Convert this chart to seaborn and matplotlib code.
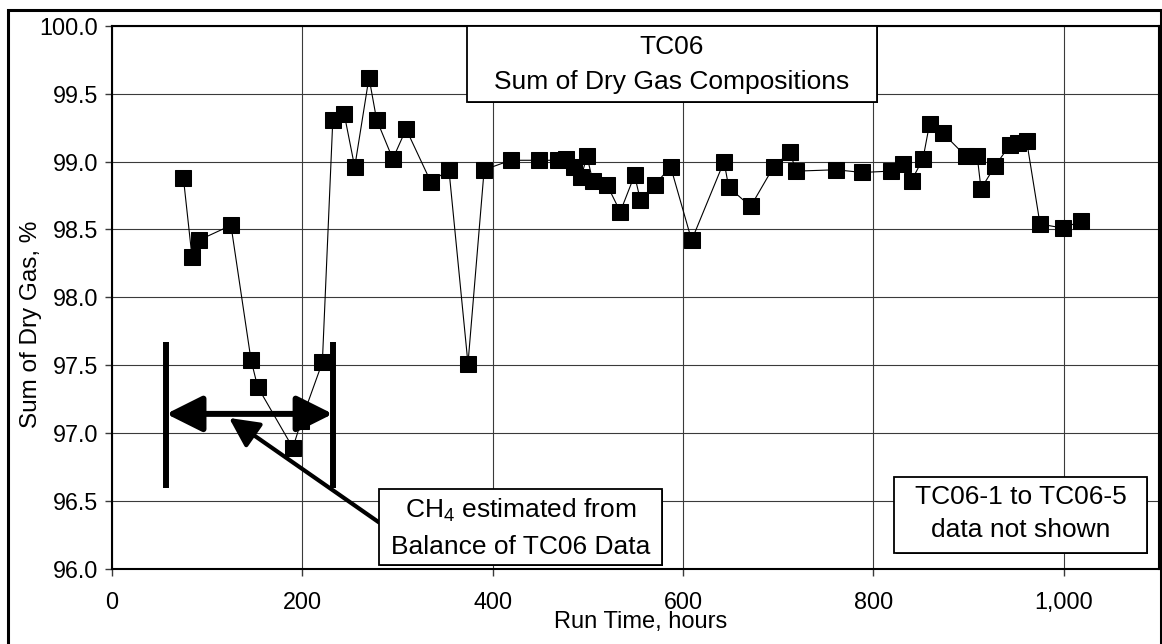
import matplotlib
matplotlib.use("Agg")
import matplotlib.pyplot as plt
import matplotlib.patches as mpatches
import matplotlib.ticker as mticker
import seaborn as sns
import pandas as pd

# Run time (hours) and sum of dry gas compositions (%)
run_hours = [75, 84, 91, 125, 146, 153, 190, 199, 221, 232, 244, 255, 270, 278,
             295, 309, 335, 354, 374, 391, 419, 449, 469, 477, 485, 493, 499, 505,
             520, 534, 549, 555, 570, 587, 609, 643, 648, 671, 695, 712, 719, 761,
             788, 818, 831, 840, 852, 859, 873, 897, 909, 913, 928, 943, 952, 961,
             975, 999, 1018]
dry_gas_sum = [98.88, 98.30, 98.42, 98.53, 97.54, 97.34, 96.89, 97.09, 97.52, 99.31,
               99.35, 98.96, 99.62, 99.31, 99.02, 99.24, 98.85, 98.94, 97.51, 98.94,
               99.01, 99.01, 99.01, 99.02, 98.96, 98.89, 99.04, 98.86, 98.83, 98.63,
               98.90, 98.72, 98.83, 98.96, 98.42, 99.00, 98.81, 98.67, 98.96, 99.07,
               98.93, 98.94, 98.92, 98.93, 98.98, 98.86, 99.02, 99.28, 99.21, 99.04,
               99.04, 98.80, 98.97, 99.12, 99.14, 99.15, 98.54, 98.51, 98.56]

x_ticks = [0, 200, 400, 600, 800, 1000]
y_ticks = [96.0, 96.5, 97.0, 97.5, 98.0, 98.5, 99.0, 99.5, 100.0]

# CH4 estimation window (hours) and bracket extent (%)
ch4_window = [57, 232]
bracket_span = [96.59, 97.67]
bracket_level = 97.14

df = pd.DataFrame({"hours": run_hours, "sum": dry_gas_sum})

sns.set_theme(style="white")
plt.rcParams["font.family"] = ["Liberation Sans", "DejaVu Sans"]
plt.rcParams["mathtext.fontset"] = "custom"
plt.rcParams["mathtext.rm"] = "Liberation Sans"
plt.rcParams["mathtext.it"] = "Liberation Sans"

W, H = 1162, 644
fig = plt.figure(figsize=(W / 100, H / 100), dpi=100, facecolor="white")
L, R, T, B = 112, 1159, 26, 568.5
ax = fig.add_axes([L / W, (H - B) / H, (R - L) / W, (B - T) / H])
ax.set_facecolor("white")

sns.lineplot(data=df, x="hours", y="sum", ax=ax, color="black", lw=0.8,
             marker="s", markersize=11.5, markeredgecolor="black",
             markerfacecolor="black", estimator=None, zorder=3)

ax.set_xlim(0, 1100)
ax.set_ylim(96.0, 100.0)
ax.set_xticks(x_ticks)
ax.set_yticks(y_ticks)
ax.xaxis.set_major_formatter(mticker.FuncFormatter(lambda v, p: f"{int(v):,}"))
ax.yaxis.set_major_formatter(mticker.FormatStrFormatter("%.1f"))
ax.grid(True, color="#3a3a3a", lw=0.8)
ax.set_axisbelow(True)
for s in ax.spines.values():
    s.set_visible(True)
    s.set_color("black")
    s.set_linewidth(1.5)
ax.tick_params(axis="both", which="major", direction="out", length=5, width=1,
               color="#3a3a3a", labelsize=16.8, labelcolor="black")
ax.tick_params(axis="x", pad=11, bottom=True)
ax.tick_params(axis="y", pad=5, left=True)

ax.set_xlabel("Run Time, hours", fontsize=17, color="black")
ax.xaxis.set_label_coords(0.505, -0.098)
ax.xaxis.label.set_va("center")
ax.set_ylabel("Sum of Dry Gas, %", fontsize=17.5, color="black")
ax.yaxis.set_label_coords(-0.0776, 0.45)
ax.yaxis.label.set_va("center")

# bracket marking the CH4 estimation window
for xv in ch4_window:
    ax.plot([xv, xv], bracket_span, color="black", lw=4.3, solid_capstyle="butt",
            zorder=4)
ax.annotate("", xy=(ch4_window[0], bracket_level),
            xytext=(ch4_window[1], bracket_level),
            arrowprops=dict(arrowstyle="<|-|>,head_length=2.2,head_width=1.1",
                            mutation_scale=10, lw=4.3, color="black",
                            shrinkA=0, shrinkB=0), zorder=4)
ax.annotate("", xy=(123, 97.11), xytext=(280.5, 96.34),
            arrowprops=dict(arrowstyle="-|>,head_length=1.8,head_width=0.9",
                            mutation_scale=10, lw=3.0, color="black",
                            shrinkA=0, shrinkB=0), zorder=4)


def text_box(x0, x1, y0, y1, lines, xc, ys, size=19):
    ax.add_patch(mpatches.Rectangle((x0 + 0.0012, y0 - 0.0022), x1 - x0, y1 - y0,
                                    transform=ax.transAxes, facecolor="black",
                                    edgecolor="none", zorder=5, clip_on=False))
    ax.add_patch(mpatches.Rectangle((x0, y0), x1 - x0, y1 - y0,
                                    transform=ax.transAxes, facecolor="white",
                                    edgecolor="black", lw=1.3, zorder=6,
                                    clip_on=False))
    for line, yc in zip(lines, ys):
        ax.text(xc, yc, line, transform=ax.transAxes, ha="center", va="center",
                fontsize=size, color="black", zorder=7)


text_box(0.3388, 0.7304, 0.8605, 1.0, ["TC06", "Sum of Dry Gas Compositions"],
         0.5345, [0.9618, 0.8973])
text_box(0.255, 0.525, 0.0065, 0.146,
         ["CH$_4$ estimated from", "Balance of TC06 Data"], 0.390, [0.1078, 0.0402])
text_box(0.7472, 0.9883, 0.0291, 0.1692,
         ["TC06-1 to TC06-5", "data not shown"], 0.8677, [0.1324, 0.071])

# outer frame around the whole chart
fig.add_artist(mpatches.Rectangle((8 / W, -0.02), (1161 - 8) / W, (H - 10) / H + 0.02,
                                  transform=fig.transFigure, fill=False,
                                  edgecolor="black", lw=2.2))

fig.savefig("out.png", dpi=100, facecolor="white")
